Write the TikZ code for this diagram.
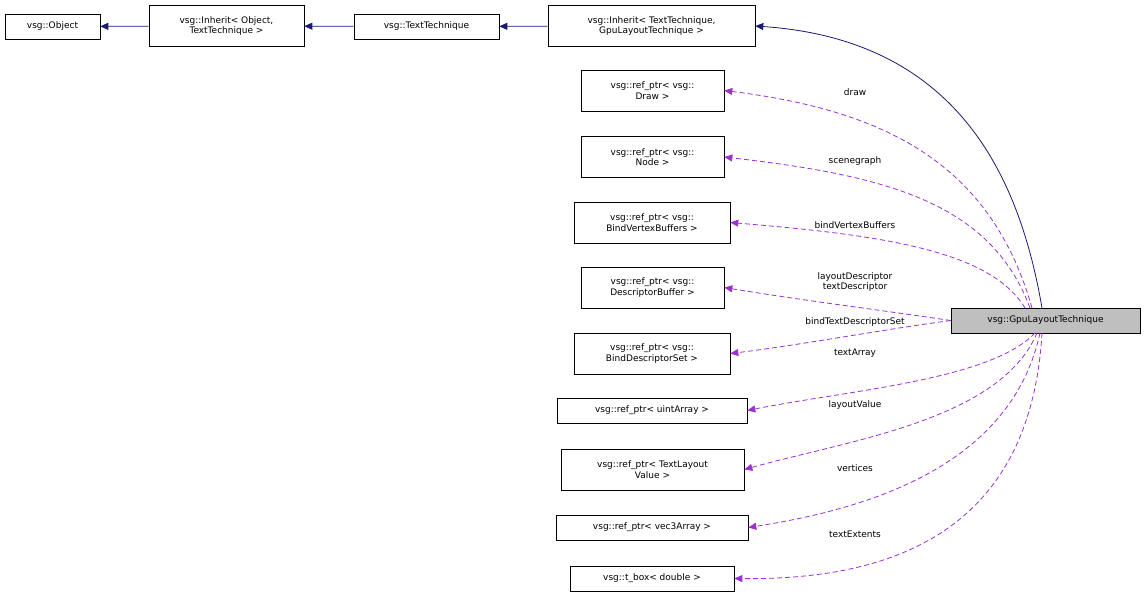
\documentclass[tikz,border=0pt]{standalone}
\usepackage{fontspec}
\setmainfont{DejaVu Sans}
\usetikzlibrary{arrows.meta}
\definecolor{navy}{HTML}{191970}
\definecolor{purp}{HTML}{9A32CD}
\begin{document}
\begin{tikzpicture}[x=1pt,y=-1pt,
 box/.style={draw,line width=0.6pt,align=center,font=\fontsize{9}{10.5}\selectfont,inner sep=0pt,minimum height=25pt},
 box2/.style={box,minimum height=41pt},
 inh/.style={draw=navy,line width=0.8pt,-{Triangle[length=8pt,width=7pt,fill=navy]}},
 use/.style={draw=purp,line width=0.8pt,dashed,dash pattern=on 5pt off 3pt,-{Triangle[length=8pt,width=7pt,fill=purp]}},
 lab/.style={font=\fontsize{9}{10.5}\selectfont,align=center,inner sep=0pt}]
\useasboundingbox (0,0) rectangle (1145,598);
\node[box,minimum width=95pt] (obj) at (52.5,26.5) {vsg::Object};
\node[box2,minimum width=155pt] (i1) at (226.5,26) {vsg::Inherit< Object,\\TextTechnique >};
\node[box,minimum width=145pt] (tt) at (426.5,26.5) {vsg::TextTechnique};
\node[box2,minimum width=207pt] (i2) at (651.5,26) {vsg::Inherit< TextTechnique,\\GpuLayoutTechnique >};
\node[box2,minimum width=143pt] (dr) at (652.5,90.5) {vsg::ref\_ptr< vsg::\\Draw >};
\node[box2,minimum width=143pt] (nd) at (652.5,157) {vsg::ref\_ptr< vsg::\\Node >};
\node[box2,minimum width=156pt] (bv) at (652,222.5) {vsg::ref\_ptr< vsg::\\BindVertexBuffers >};
\node[box2,minimum width=143pt] (db) at (652.5,287.5) {vsg::ref\_ptr< vsg::\\DescriptorBuffer >};
\node[box2,minimum width=156pt] (bd) at (652,353.5) {vsg::ref\_ptr< vsg::\\BindDescriptorSet >};
\node[box,minimum width=190pt] (ua) at (652,410.5) {vsg::ref\_ptr< uintArray >};
\node[box2,minimum width=183pt] (tl) at (652.5,469.5) {vsg::ref\_ptr< TextLayout\\Value >};
\node[box,minimum width=192pt] (v3) at (652,527.5) {vsg::ref\_ptr< vec3Array >};
\node[box,minimum width=164pt] (tb) at (652,578.5) {vsg::t\_box< double >};
\node[box,minimum width=189pt,fill=black!25] (g) at (1045.5,320.5) {vsg::GpuLayoutTechnique};
\draw[inh] (i1) -- (obj);
\draw[inh] (tt) -- (i1);
\draw[inh] (i2) -- (tt);
\draw[inh] (1042,308) .. controls (1020,180) and (960,40) .. (i2.east);
\draw[use] (1032,308) .. controls (990,160) and (880,110) .. (dr.east);
\draw[use] (1030,308) .. controls (990,200) and (880,175) .. (nd.east);
\draw[use] (1025,308) .. controls (990,250) and (880,235) .. (bv.east);
\draw[use] (g.west) .. controls (880,310) and (800,300) .. (db.east);
\draw[use] (g.west) .. controls (880,330) and (800,345) .. (bd.east);
\draw[use] (1035,333) .. controls (990,380) and (850,390) .. (ua.east);
\draw[use] (1037,333) .. controls (1000,420) and (850,440) .. (tl.east);
\draw[use] (1040,333) .. controls (1010,470) and (860,510) .. (v3.east);
\draw[use] (1042,333) .. controls (1030,540) and (880,580) .. (tb.east);
\node[lab] (l1) at (855,92) {draw};
\node[lab] (l2) at (855,161) {scenegraph};
\node[lab] (l3) at (855,225) {bindVertexBuffers};
\node[lab] (l4) at (855,282) {layoutDescriptor\\textDescriptor};
\node[lab] (l5) at (855,322) {bindTextDescriptorSet};
\node[lab] (l6) at (855,353) {textArray};
\node[lab] (l7) at (855,405) {layoutValue};
\node[lab] (l8) at (855,468) {vertices};
\node[lab] (l9) at (855,534) {textExtents};
\end{tikzpicture}
\end{document}
